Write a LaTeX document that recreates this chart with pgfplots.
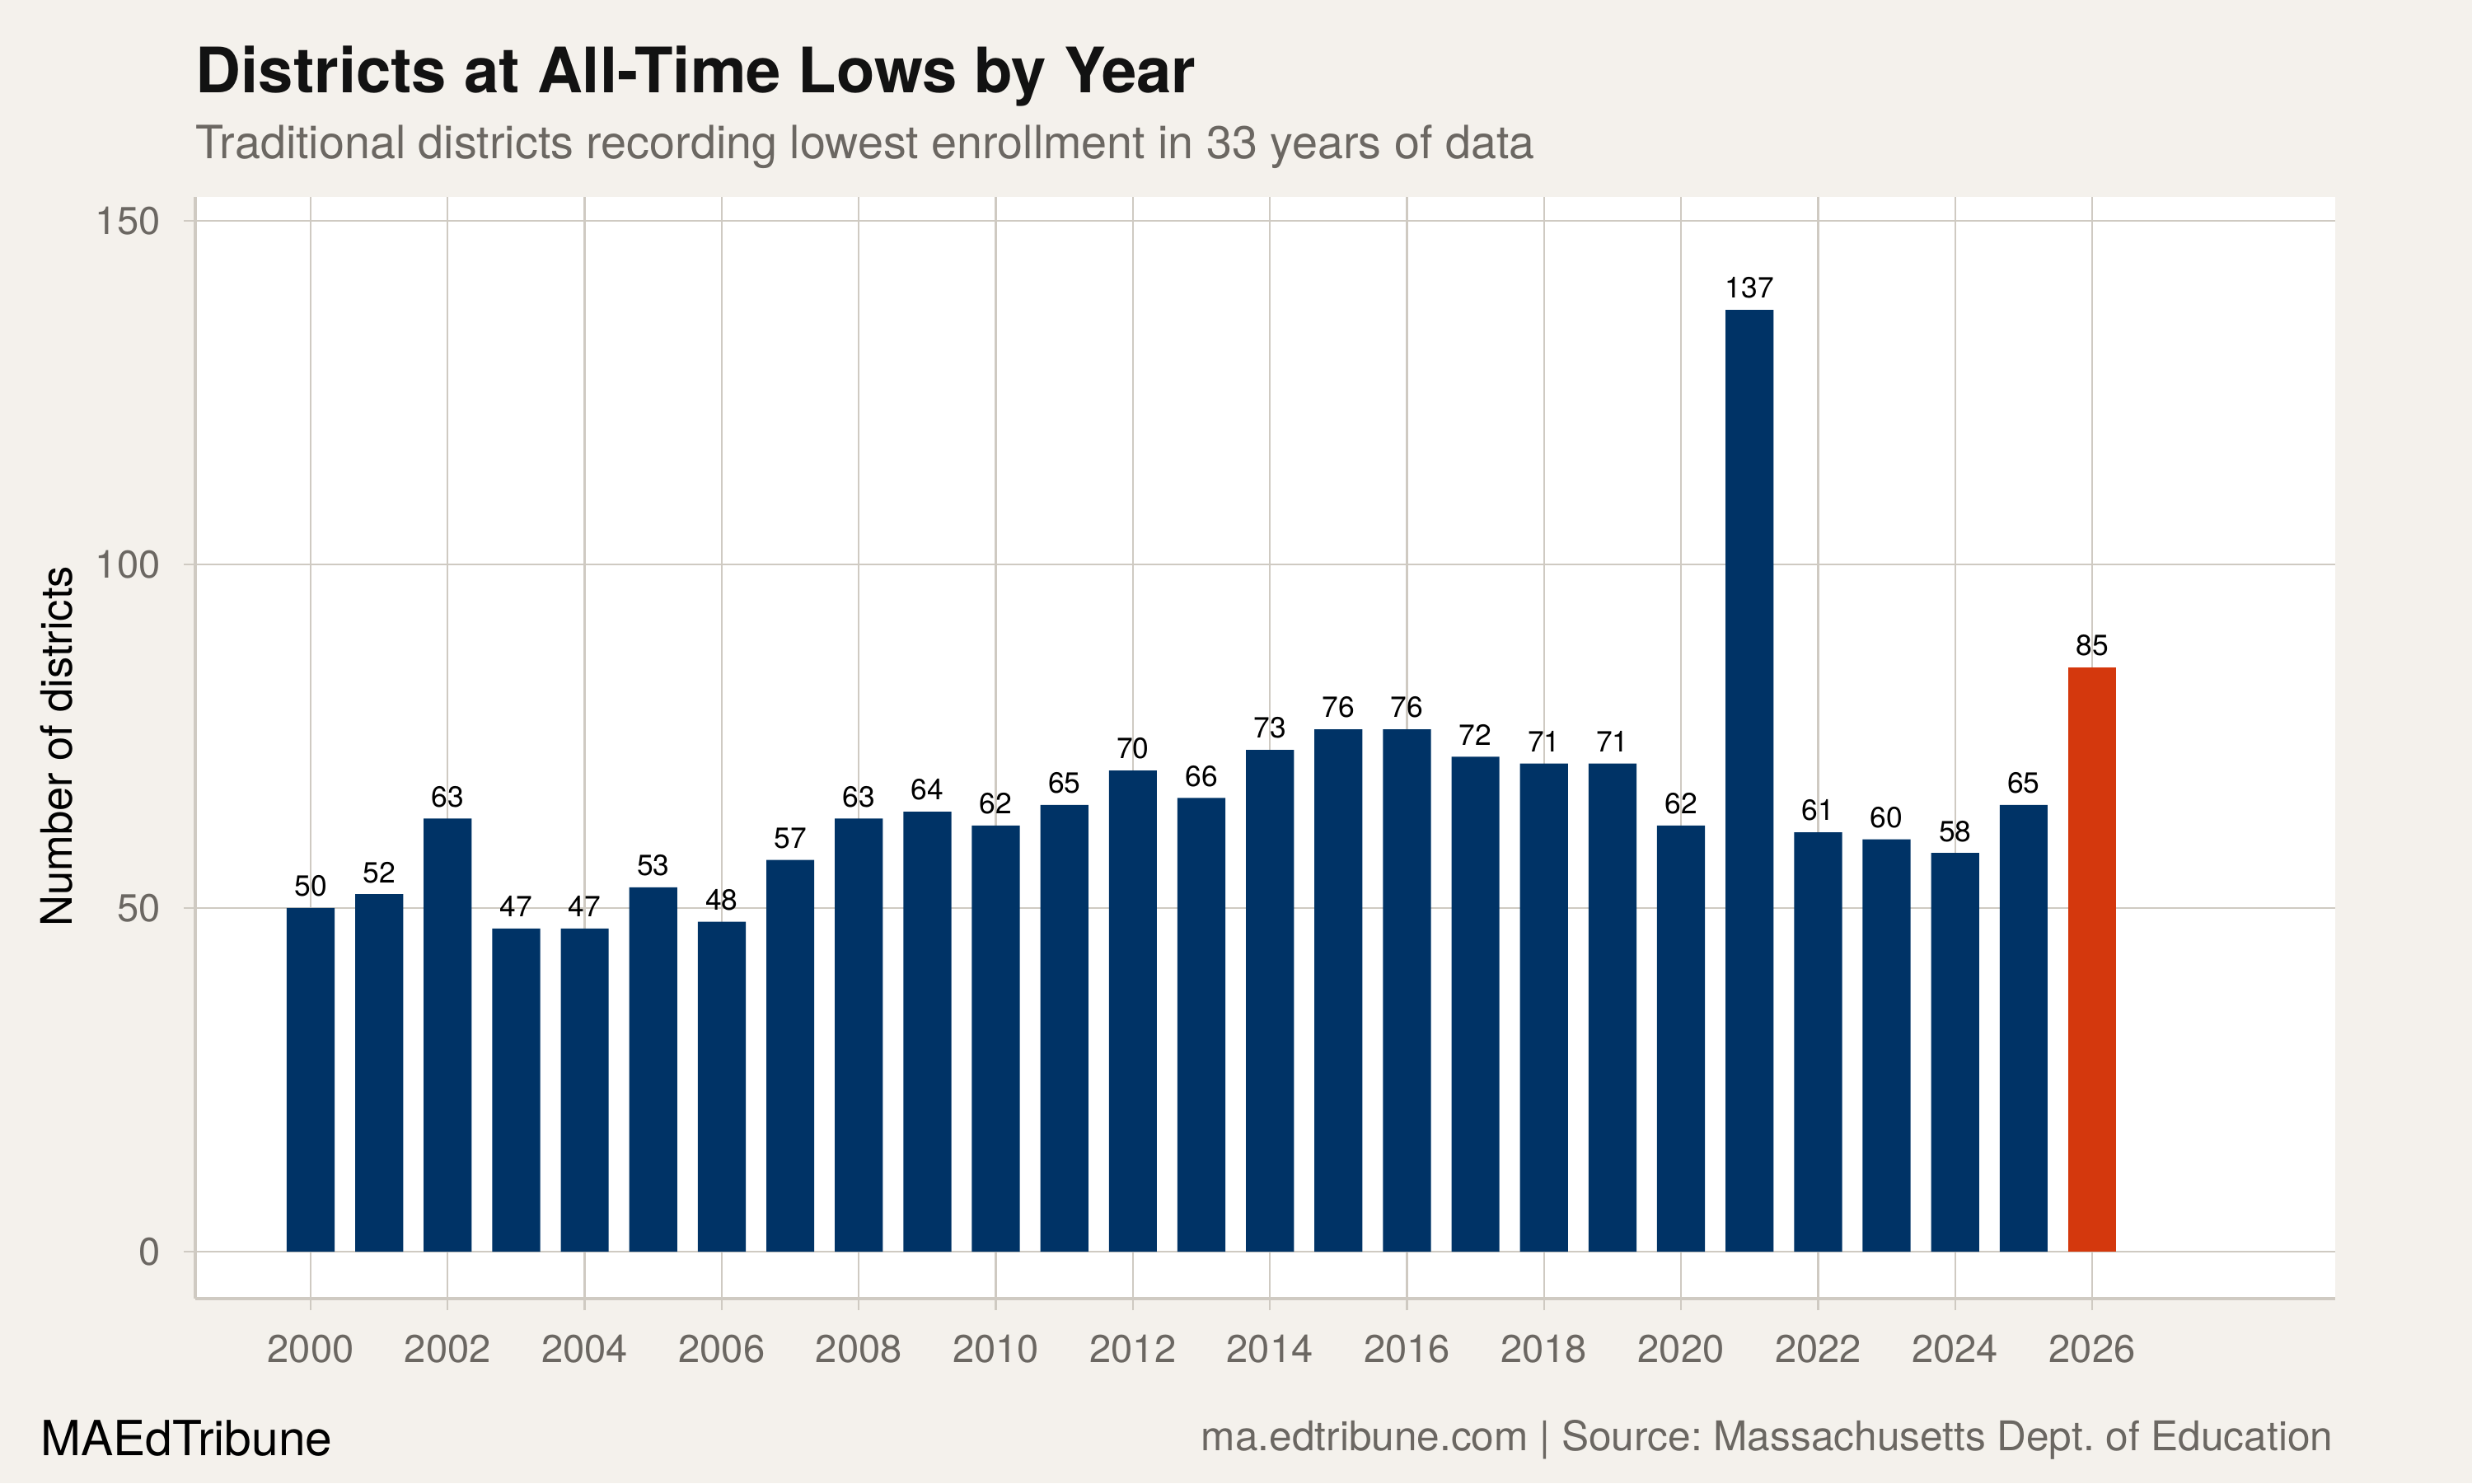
\documentclass[border=0pt]{standalone}
\usepackage{fontspec}
\setmainfont{TeX Gyre Heros}
\usepackage{pgfplots}
\pgfplotsset{compat=1.18}

\definecolor{bg}{HTML}{F4F1EC}
\definecolor{navy}{HTML}{003366}
\definecolor{hilite}{HTML}{D4380D}
\definecolor{gridc}{HTML}{CFCAC2}
\definecolor{txtgrey}{HTML}{6B6762}

\begin{document}
\frenchspacing
\begin{tikzpicture}
\fill[bg] (0,0) rectangle (720pt,432pt);
\begin{axis}[
  at={(56.88pt,53.76pt)}, anchor=south west,
  width=623.28pt, height=320.88pt, scale only axis,
  xmin=1998.316, xmax=2029.548, ymin=-6.83, ymax=153.44,
  ybar, bar width=0.7, bar shift=0pt,
  axis background/.style={fill=white},
  axis lines*=left,
  axis line style={draw=gridc, line width=0.8pt, -},
  xtick={2000,2002,...,2026}, ytick={0,50,100,150},
  grid=major, major grid style={draw=gridc, line width=0.55pt},
  tick align=outside, major tick length=3.4pt,
  tick style={draw=gridc, line width=0.55pt},
  /pgf/number format/assume math mode=true,
  /pgf/number format/1000 sep={},
  ticklabel style={font=\fontsize{11.3}{13}\selectfont, text=txtgrey},
  xticklabel style={inner sep=0pt, anchor=north, yshift=-7pt},
  yticklabel style={inner sep=0pt, anchor=east, xshift=-6.6pt},
  nodes near coords,
  nodes near coords style={font=\fontsize{8.5}{10}\selectfont, text=black, anchor=base, inner sep=0pt, yshift=3.4pt},
  clip=false,
]
% districts at all-time lows, 2000-2025
\addplot[fill=navy, draw=none] coordinates {
  (2000,50) (2001,52) (2002,63) (2003,47) (2004,47) (2005,53) (2006,48)
  (2007,57) (2008,63) (2009,64) (2010,62) (2011,65) (2012,70) (2013,66)
  (2014,73) (2015,76) (2016,76) (2017,72) (2018,71) (2019,71) (2020,62)
  (2021,137) (2022,61) (2023,60) (2024,58) (2025,65)
};
% latest year highlighted
\addplot[fill=hilite, draw=none] coordinates {(2026,85)};
\end{axis}

\node[anchor=base west, inner sep=0pt, text=black!93]
  at (56.9pt,404.95pt) {\fontsize{18.25}{21}\selectfont\bfseries Districts at All-Time Lows by Year};
\node[anchor=base west, inner sep=0pt, text=txtgrey]
  at (56.9pt,385.75pt) {\fontsize{13.36}{16}\selectfont Traditional districts recording lowest enrollment in 33 years of data};
\node[anchor=base, rotate=90, inner sep=0pt, text=black]
  at (21.1pt,214.6pt) {\fontsize{12.6}{15}\selectfont Number of districts};
\node[anchor=base west, inner sep=0pt, text=black]
  at (11.7pt,8pt) {\fontsize{14.1}{16}\selectfont MAEdTribune};
\node[anchor=base east, inner sep=0pt, text=txtgrey]
  at (679.7pt,9.43pt) {\fontsize{11.9}{14}\selectfont ma.edtribune.com | Source: Massachusetts Dept. of Education};

\pgfresetboundingbox
\useasboundingbox (0,0) rectangle (720pt,432pt);
\end{tikzpicture}
\end{document}
